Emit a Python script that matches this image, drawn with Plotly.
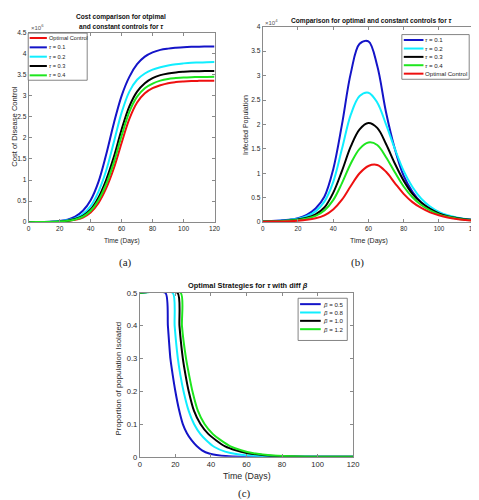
import plotly.graph_objects as go

# ---------------- data ----------------
# Panel (a): cost of disease control (x 1e6) vs time
t_a = [0, 5, 10, 15, 20, 25, 30, 35, 40, 45, 50, 55, 60, 65, 70, 75, 80, 85, 90, 95, 100, 105, 110, 115, 120]
cost_optimal = [0, 0.001, 0.002, 0.005, 0.012, 0.027, 0.055, 0.11, 0.23, 0.45, 0.8, 1.28, 1.88, 2.45, 2.84, 3.06, 3.18, 3.25, 3.3, 3.325, 3.34, 3.35, 3.355, 3.358, 3.36]
cost_tau01 = [0, 0.002, 0.005, 0.012, 0.03, 0.06, 0.13, 0.27, 0.52, 0.95, 1.6, 2.35, 3.0, 3.45, 3.75, 3.93, 4.03, 4.09, 4.12, 4.14, 4.155, 4.163, 4.167, 4.17, 4.172]
cost_tau02 = [0, 0.002, 0.004, 0.009, 0.02, 0.045, 0.09, 0.19, 0.38, 0.72, 1.22, 1.9, 2.6, 3.1, 3.38, 3.53, 3.62, 3.68, 3.72, 3.75, 3.77, 3.785, 3.79, 3.797, 3.8]
cost_tau03 = [0, 0.001, 0.003, 0.007, 0.016, 0.035, 0.075, 0.15, 0.3, 0.58, 1.0, 1.55, 2.2, 2.75, 3.1, 3.3, 3.42, 3.49, 3.53, 3.555, 3.57, 3.58, 3.585, 3.588, 3.59]
cost_tau04 = [0, 0.001, 0.003, 0.006, 0.014, 0.03, 0.065, 0.13, 0.27, 0.52, 0.9, 1.42, 2.05, 2.62, 2.98, 3.18, 3.29, 3.36, 3.4, 3.42, 3.435, 3.443, 3.447, 3.449, 3.45]
names_a = ["Optimal Control", "<i>τ</i> = 0.1", "<i>τ</i> = 0.2", "<i>τ</i> = 0.3", "<i>τ</i> = 0.4"]

# Panel (b): infected population (x 1e4) vs time
t_b = [0, 5, 10, 15, 20, 25, 30, 35, 40, 45, 50, 55, 60, 65, 70, 75, 80, 85, 90, 95, 100, 105, 110, 115, 120]
inf_tau01 = [0.02, 0.025, 0.035, 0.05, 0.08, 0.15, 0.28, 0.52, 1.08, 2.0, 3.05, 3.65, 3.7, 3.2, 2.25, 1.5, 0.95, 0.62, 0.4, 0.27, 0.18, 0.12, 0.085, 0.06, 0.04]
inf_tau02 = [0.02, 0.022, 0.03, 0.045, 0.07, 0.12, 0.22, 0.42, 0.82, 1.5, 2.2, 2.58, 2.65, 2.45, 2.0, 1.5, 1.05, 0.72, 0.48, 0.32, 0.21, 0.14, 0.095, 0.065, 0.045]
inf_tau03 = [0.015, 0.018, 0.024, 0.035, 0.055, 0.09, 0.16, 0.3, 0.6, 1.05, 1.55, 1.9, 2.03, 1.93, 1.6, 1.2, 0.85, 0.58, 0.4, 0.27, 0.18, 0.12, 0.085, 0.06, 0.04]
inf_tau04 = [0.012, 0.015, 0.02, 0.03, 0.045, 0.075, 0.13, 0.24, 0.45, 0.8, 1.2, 1.5, 1.63, 1.58, 1.33, 1.02, 0.73, 0.51, 0.35, 0.24, 0.16, 0.11, 0.075, 0.05, 0.035]
inf_optimal = [0.01, 0.012, 0.015, 0.02, 0.03, 0.048, 0.08, 0.14, 0.26, 0.46, 0.74, 1.0, 1.15, 1.17, 1.03, 0.8, 0.58, 0.41, 0.29, 0.2, 0.14, 0.095, 0.065, 0.045, 0.03]
names_b = ["<i>τ</i> = 0.1", "<i>τ</i> = 0.2", "<i>τ</i> = 0.3", "<i>τ</i> = 0.4", "Optimal Control"]

# Panel (c): proportion of population isolated vs time, for several beta
t_c05 = [0, 14.4, 15.8, 17.2, 18.5, 20, 22, 24.2, 26.5, 29.2, 32, 35, 39, 45, 50, 60, 120]
u_c05 = [0.5, 0.5, 0.4, 0.3, 0.25, 0.2, 0.145, 0.1, 0.072, 0.05, 0.033, 0.02, 0.01, 0.004, 0.002, 0.0005, 0.0]
t_c08 = [0, 18.5, 19.6, 21.4, 22.8, 24.6, 27.5, 30.5, 34, 37.5, 42, 48, 55, 65, 80, 120]
u_c08 = [0.5, 0.5, 0.4, 0.3, 0.25, 0.2, 0.14, 0.1, 0.07, 0.05, 0.03, 0.016, 0.008, 0.003, 0.001, 0.0]
t_c10 = [0, 21.2, 22.3, 24.2, 25.7, 27.5, 30.5, 34.1, 38.5, 43, 48, 54, 60, 70, 85, 120]
u_c10 = [0.5, 0.5, 0.4, 0.3, 0.25, 0.2, 0.14, 0.1, 0.07, 0.05, 0.032, 0.02, 0.012, 0.005, 0.001, 0.0]
t_c12 = [0, 23, 23.7, 26, 27.7, 29.6, 32.7, 36.4, 41, 45.7, 51, 57, 64, 75, 90, 120]
u_c12 = [0.5, 0.5, 0.4, 0.3, 0.25, 0.2, 0.14, 0.1, 0.07, 0.05, 0.032, 0.02, 0.011, 0.004, 0.001, 0.0]
names_c = ["<i>β</i> = 0.5", "<i>β</i> = 0.8", "<i>β</i> = 1.0", "<i>β</i> = 1.2"]

x_ticks = [0, 20, 40, 60, 80, 100, 120]

# ---------------- styling ----------------
BLUE = "#1414c8"
CYAN = "#10eeff"
BLACK = "#000000"
GREEN = "#1ee61e"
RED = "#ee1010"
FONT = "Liberation Sans"
SERIF = "Liberation Serif"
AXC = "#8a8a8a"
TXT = "#262626"
W, H = 479, 500


def px(x):
    return x / W


def py(y):
    return 1 - y / H


fig = go.Figure()

series_a = [(cost_optimal, RED), (cost_tau01, BLUE), (cost_tau02, CYAN), (cost_tau03, BLACK), (cost_tau04, GREEN)]
for (vals, col), nm in zip(series_a, names_a):
    fig.add_trace(go.Scatter(x=t_a, y=vals, mode="lines", line=dict(color=col, width=2, shape="spline"),
                             name=nm, showlegend=False, xaxis="x", yaxis="y"))

series_b = [(inf_tau01, BLUE), (inf_tau02, CYAN), (inf_tau03, BLACK), (inf_tau04, GREEN), (inf_optimal, RED)]
for (vals, col), nm in zip(series_b, names_b):
    fig.add_trace(go.Scatter(x=t_b, y=vals, mode="lines", line=dict(color=col, width=2, shape="spline"),
                             name=nm, showlegend=False, xaxis="x2", yaxis="y2"))

series_c = [(t_c05, u_c05, BLUE), (t_c08, u_c08, CYAN), (t_c10, u_c10, BLACK), (t_c12, u_c12, GREEN)]
for (tt, vals, col), nm in zip(series_c, names_c):
    fig.add_trace(go.Scatter(x=tt, y=vals, mode="lines", line=dict(color=col, width=2, shape="spline", smoothing=0.6),
                             name=nm, showlegend=False, xaxis="x3", yaxis="y3"))


def ax(domain, rng, tickvals, size, anchor):
    return dict(domain=domain, range=rng, tickvals=tickvals, showline=True, linecolor=AXC, linewidth=1,
                mirror="ticks", ticks="inside", ticklen=3, tickcolor=AXC, showgrid=False, zeroline=False,
                tickfont=dict(family=FONT, size=size, color=TXT), anchor=anchor, fixedrange=True)


ya_ticks = [0, 0.5, 1, 1.5, 2, 2.5, 3, 3.5, 4, 4.5]
yb_ticks = [0, 0.5, 1, 1.5, 2, 2.5, 3, 3.5, 4]
yc_ticks = [0, 0.1, 0.2, 0.3, 0.4, 0.5]

xaxis2 = ax([px(257), px(472)], [0, 120], x_ticks, 6.3, "y2")
xaxis2["ticklabeloverflow"] = "allow"

fig.update_layout(
    width=W, height=H, margin=dict(l=0, r=0, t=0, b=0),
    paper_bgcolor="white", plot_bgcolor="white", showlegend=False,
    xaxis=ax([px(19), px(208)], [0, 120], x_ticks, 6.6, "y"),
    yaxis=ax([py(214), py(21)], [0, 4.5], ya_ticks, 6.6, "x"),
    xaxis2=xaxis2,
    yaxis2=ax([py(214), py(15)], [0, 4], yb_ticks, 6.6, "x2"),
    xaxis3=ax([px(132), px(349)], [0, 120], x_ticks, 7.6, "y3"),
    yaxis3=ax([py(453), py(286)], [0, 0.5], yc_ticks, 7.6, "x3"),
)

ann = []
shapes = []


def text(x, y, s, size, bold=False, angle=0, family=FONT, xanchor="center", color=TXT):
    ann.append(dict(x=px(x), y=py(y), xref="paper", yref="paper", text=("<b>%s</b>" % s) if bold else s,
                    showarrow=False, xanchor=xanchor, yanchor="middle", textangle=angle,
                    font=dict(family=family, size=size, color=color)))


# titles
text(113, 5, "Cost comparison for otpimal", 6.6, bold=True, color="#111")
text(113, 15, "and constant controls for <i>τ</i>", 6.6, bold=True, color="#111")
text(368, 9, "Comparison for optimal and constant controls for <i>τ</i>", 6.6, bold=True, color="#111")
text(242, 279, "Optimal Strategies for <i>τ</i> with diff <i>β</i>", 7.4, bold=True, color="#111")
# exponents
text(19, 15, "×10<sup>6</sup>", 6, xanchor="left", color="#555")
text(257, 10, "×10<sup>4</sup>", 6, xanchor="left", color="#555")
# axis titles
text(113.5, 233.5, "Time (Days)", 6.6)
text(365.5, 233.5, "Time (Days)", 7.0)
text(241.5, 473, "Time (Days)", 8.8)
text(5, 116, "Cost of Disease Control", 7.6, angle=-90)
text(240, 115, "Infected Population", 7.0, angle=-90)
text(110, 373, "Proportion of population Isolated", 7.9, angle=-90)
# captions
text(117, 255, "(a)", 11, family=SERIF, color="#222")
text(353, 255, "(b)", 11, family=SERIF, color="#222")
text(238.5, 490, "(c)", 11, family=SERIF, color="#222")


def legend(box, entries, line_x0, line_x1, text_x, ys, size):
    x0, y0, x1, y1 = box
    shapes.append(dict(type="rect", xref="paper", yref="paper", x0=px(x0), x1=px(x1), y0=py(y1), y1=py(y0),
                       line=dict(color="#666", width=0.8), fillcolor="white", layer="above"))
    for (nm, col), yy in zip(entries, ys):
        shapes.append(dict(type="line", xref="paper", yref="paper", x0=px(line_x0), x1=px(line_x1),
                           y0=py(yy), y1=py(yy), line=dict(color=col, width=2), layer="above"))
        text(text_x, yy, nm, size, xanchor="left", color="#222")


legend((18.5, 21.5, 78.5, 69.5), list(zip(names_a, [c for _, c in series_a])), 20, 37.5, 37.5,
       [26.5, 36, 45.5, 55, 64.5], 5.6)
legend((398.5, 23, 467, 68.5), list(zip(names_b, [c for _, c in series_b])), 400.5, 420.5, 420.5,
       [28.5, 37.2, 45.7, 54.2, 62.8], 6.1)
legend((293, 291.5, 343, 334.5), list(zip(names_c, [c for _, _, c in series_c])), 295, 316, 316,
       [297.5, 306, 314.5, 323], 6.1)

fig.update_layout(annotations=ann, shapes=shapes)
fig.write_html("out.html")
